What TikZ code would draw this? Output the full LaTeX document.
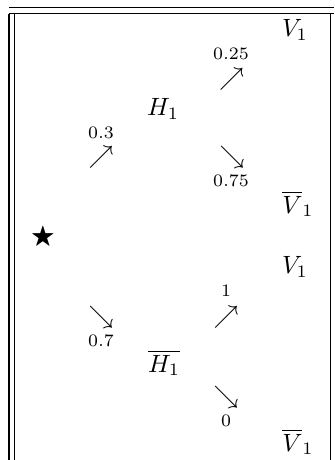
\documentclass[tikz,border=0pt]{standalone}
\usepackage{amssymb}
\begin{document}
\begin{tikzpicture}[x=0.4pt,y=-0.4pt,
  frameline/.style={line width=0.5pt},
  var/.style={inner sep=0pt},
  arr/.style={inner sep=0pt},
  lbl/.style={inner sep=0pt,font=\scriptsize}]
\useasboundingbox (0,0) rectangle (334,460);
% frame
\draw[frameline] (9,7.5) -- (334,7.5);
\draw[frameline] (9,13.5) -- (334,13.5);
\draw[frameline] (9,13.5) -- (9,460);
\draw[frameline] (14.5,13.5) -- (14.5,460);
\draw[frameline] (330.5,13.5) -- (330.5,460);
% root
\node[var] (root) at (43,237) {$\bigstar$};
% first level
\node[arr] (a1) at (101,157.5) {$\nearrow$};
\node[lbl] (l1) at (101,133) {$0.3$};
\node[arr] (a2) at (101,317) {$\searrow$};
\node[lbl] (l2) at (101,341) {$0.7$};
\node[var] (h1) at (163,109) {$H_1$};
\node[var] (h1b) at (164,363) {$\overline{H_1}$};
% second level
\node[arr] (a3) at (231.5,79) {$\nearrow$};
\node[lbl] (l3) at (231,54) {$0.25$};
\node[arr] (a4) at (232,157) {$\searrow$};
\node[lbl] (l4) at (231,181) {$0.75$};
\node[arr] (a5) at (226,317.5) {$\nearrow$};
\node[lbl] (l5) at (226,291) {$1$};
\node[arr] (a6) at (226,397) {$\searrow$};
\node[lbl] (l6) at (226,421) {$0$};
% leaves
\node[var] (v1) at (295,30) {$V_1$};
\node[var] (v1b) at (298,204) {$\overline{V}_1$};
\node[var] (v2) at (295,267) {$V_1$};
\node[var] (v2b) at (298,442) {$\overline{V}_1$};
\end{tikzpicture}
\end{document}
